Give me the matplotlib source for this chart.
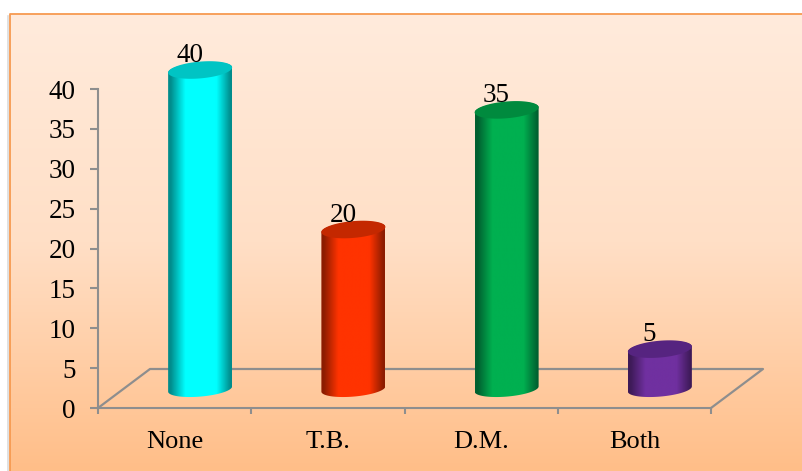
import numpy as np
import matplotlib
matplotlib.use("Agg")
import matplotlib.pyplot as plt
from matplotlib.colors import LinearSegmentedColormap
from matplotlib.patches import Polygon
from matplotlib.lines import Line2D

categories = ["None", "T.B.", "D.M.", "Both"]
values = [40, 20, 35, 5]
yticks = [0, 5, 10, 15, 20, 25, 30, 35, 40]
side_bright = ["#00FFFF", "#FF3300", "#00B050", "#7030A0"]
side_dark = ["#008C8C", "#8C1C00", "#006030", "#3E1A58"]
top_cols = ["#00C4C4", "#C42800", "#008A3E", "#562480"]

W, H = 803, 471
GRAY = "#8E8E8E"
plt.rcParams["font.family"] = ["Liberation Serif", "DejaVu Serif"]
fig = plt.figure(figsize=(W / 100, H / 100), dpi=100, facecolor="white")

# background panel, in pixel coordinates
bg = fig.add_axes([0, 0, 1, 1], zorder=0)
bg.set_xlim(0, W); bg.set_ylim(H, 0); bg.axis("off")
cmap_bg = LinearSegmentedColormap.from_list("bg", ["#FFEBDC", "#FFDFC6", "#FFBE88"])
bg.imshow(np.linspace(0, 1, 256)[:, None], cmap=cmap_bg, extent=(10, W, H, 14), aspect="auto", zorder=1)
bg.set_xlim(0, W); bg.set_ylim(H, 0)
bg.add_line(Line2D([8.5, 8.5], [16, H], color="#DCDCDC", lw=1.2, zorder=0))
bg.add_line(Line2D([10, 10, W], [H, 14, 14], color="#F79A50", lw=1.3, zorder=2))

# main axes: left 98, right 711, y=0 at 408, y=40 at 89
L, R, B, T = 98, 711, 408, 89
ax = fig.add_axes([L / W, 1 - B / H, (R - L) / W, (B - T) / H], zorder=1)
ax.patch.set_alpha(0)
ax.set_xlim(-0.5, len(categories) - 0.5)
ax.set_ylim(0, 40)
px_x = (len(categories)) / (R - L)
px_y = 40 / (B - T)

for s in ("top", "right"):
    ax.spines[s].set_visible(False)
for s in ("left", "bottom"):
    ax.spines[s].set_color(GRAY); ax.spines[s].set_linewidth(1.5)
ax.set_yticks(yticks)
ax.set_xticks(np.arange(len(categories) + 1) - 0.5)
ax.set_xticklabels([])
ax.set_xticks(np.arange(len(categories)), labels=categories, minor=True)
ax.tick_params(axis="y", length=6, width=1.5, color=GRAY, labelsize=19.5, pad=10, labelcolor="black")
ax.tick_params(axis="x", which="major", length=4.5, width=1.5, color=GRAY)
ax.tick_params(axis="x", which="minor", length=0, labelsize=19, pad=16.5, labelcolor="black")

# floor of the 3D box
dx, dy = 52 * px_x, 39 * px_y
x0, x1 = -0.5, len(categories) - 0.5
ax.plot([x0, x0 + dx, x1 + dx, x1], [0, dy, dy, 0], color=GRAY, lw=1.6, clip_on=False, zorder=2)

# cylinders
off_x, off_y = 25.5 * px_x, 19 * px_y
a = 32 * px_x
b = 7.6 * px_y
b_top = 8.4 * px_y
tilt = 2.6 * px_y
t = np.linspace(0, 2 * np.pi, 200)

def ell_x(c):
    return c + off_x + a * np.cos(t)

def ell_y(v):
    return off_y + v + b_top * np.sin(t) + tilt * np.cos(t)

for i, v in enumerate(values):
    cm = LinearSegmentedColormap.from_list(
        "c", [(0, side_dark[i]), (0.04, side_dark[i]), (0.27, side_bright[i]),
              (0.76, side_bright[i]), (0.98, side_dark[i]), (1, side_dark[i])])
    cx = i + off_x
    upper = t[(t >= 0) & (t <= np.pi)]
    lower = t[(t >= np.pi)]
    bx = cx + a * np.cos(lower)
    by = off_y + b * np.sin(lower) + tilt * np.cos(lower)
    outline = np.column_stack([
        np.r_[bx, cx + a * np.cos(upper)],
        np.r_[by, off_y + v + b * np.sin(upper) + tilt * np.cos(upper)],
    ])
    clip = Polygon(outline, closed=True, transform=ax.transData)
    im = ax.imshow(np.linspace(0, 1, 200)[None, :], cmap=cm, aspect="auto",
                   extent=(cx - a, cx + a, off_y - 2 * b, off_y + v + 2 * b), zorder=3)
    im.set_clip_box(fig.bbox)
    im.set_clip_path(clip)
    ax.fill(ell_x(i), ell_y(v), color=top_cols[i], lw=0, clip_on=False, zorder=4)
    ax.text(i + off_x - 10.5 * px_x, off_y + v + 8 * px_y, str(v), ha="center", va="baseline",
            fontsize=19.5, color="black", clip_on=False, zorder=5)

ax.set_xlim(-0.5, len(categories) - 0.5)
ax.set_ylim(0, 40)
fig.savefig("out.png", dpi=100)
